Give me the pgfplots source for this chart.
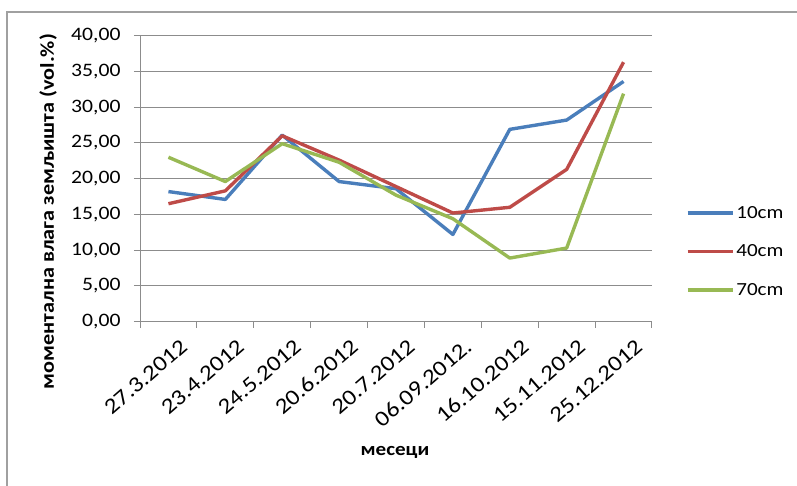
\documentclass[border=0pt]{standalone}
\usepackage{pgfplots}
\pgfplotsset{compat=1.18}
\usepackage{fontspec}
\setmainfont[FakeStretch=1.14]{Carlito}
\definecolor{s1}{HTML}{4A7EBB}
\definecolor{s2}{HTML}{BE4B48}
\definecolor{s3}{HTML}{98B954}
\definecolor{gridc}{HTML}{8C8C8C}
\definecolor{framec}{HTML}{A0A0A0}
\begin{document}
\begin{tikzpicture}[x=1pt,y=1pt]
\path[use as bounding box] (0,0) rectangle (797,485);
\draw[framec, line width=1.2pt] (7,-5) -- (7,473) -- (805,473);
\begin{axis}[
  at={(140pt,163.3pt)}, anchor=south west,
  scale only axis, width=512pt, height=286pt,
  xmin=0.5, xmax=9.5, ymin=0, ymax=40,
  xtick={1,...,9},
  xticklabels={27.3.2012,23.4.2012,24.5.2012,20.6.2012,20.7.2012,06.09.2012.,16.10.2012,15.11.2012,25.12.2012},
  minor xtick={0.5,1.5,...,9.5},
  major x tick style={draw=none},
  ytick={0,5,...,40},
  tick align=outside,
  major tick length=6pt, minor tick length=6pt,
  tick style={gridc, line width=1pt},
  xtick pos=bottom, ytick pos=left,
  ymajorgrids,
  grid style={gridc, line width=1pt},
  axis x line*=bottom, axis y line*=left,
  axis line style={gridc, line width=1pt},
  /pgf/number format/.cd, fixed, fixed zerofill, precision=2, use comma, assume math mode=true,
  /pgfplots/.cd,
  y tick label style={font=\fontsize{19}{22}\selectfont, xshift=-10pt},
  x tick label style={font=\fontsize{22}{26}\selectfont, rotate=41, anchor=east, xshift=5pt, yshift=-22pt},
  legend style={at={(1.06,0.245)}, anchor=west, draw=none, fill=none, font=\fontsize{18.5}{22}\selectfont, row sep=21pt},
  legend cell align=left,
  legend image code/.code={\draw[#1, line width=3.4pt] (0pt,0pt) -- (45pt,0pt);},
  every axis plot/.append style={line width=3.4pt, line join=round},
]
\addplot[s1] coordinates {(1,18.2) (2,17.1) (3,26.1) (4,19.6) (5,18.6) (6,12.2) (7,26.9) (8,28.2) (9,33.6)};
\addlegendentry{10cm}
\addplot[s2] coordinates {(1,16.5) (2,18.3) (3,26.0) (4,22.6) (5,18.9) (6,15.2) (7,16.0) (8,21.3) (9,36.3)};
\addlegendentry{40cm}
\addplot[s3] coordinates {(1,23.0) (2,19.6) (3,24.9) (4,22.3) (5,17.7) (6,14.4) (7,8.9) (8,10.3) (9,31.9)};
\addlegendentry{70cm}
\end{axis}
\node[rotate=90, font=\bfseries\fontsize{19.5}{22}\selectfont] at (48,273.5) {моментална влага земљишта (vol.\%)};
\node[font=\bfseries\fontsize{18.5}{22}\selectfont] at (395,33) {месеци};
\end{tikzpicture}
\end{document}
